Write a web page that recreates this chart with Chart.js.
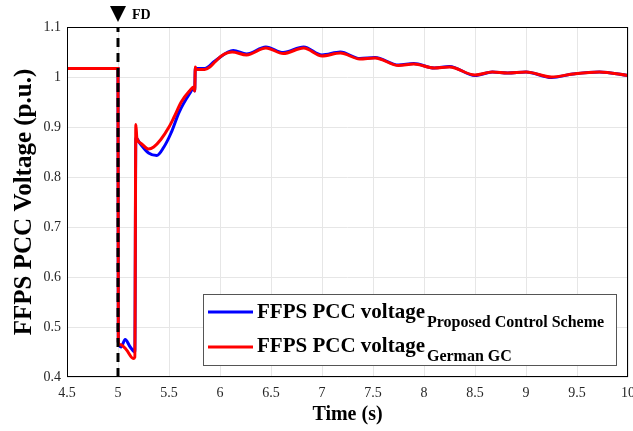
<!DOCTYPE html>
<html>
<head>
<meta charset="utf-8">
<script src="https://cdn.jsdelivr.net/npm/chart.js@4.4.1/dist/chart.umd.min.js"></script>
<style>
  html, body { margin: 0; padding: 0; background: #fff; }
  #wrap { width: 633px; height: 431px; }
</style>
</head>
<body>
<div id="wrap"><canvas id="voltChart" width="633" height="431"></canvas></div>
<script>
// time axis (s) and voltage (p.u.)
const germanT = [4.5, 5.0, 5.003, 5.02, 5.08, 5.15, 5.165, 5.175, 5.185, 5.22, 5.3, 5.35, 5.42, 5.5, 5.55, 5.62, 5.7, 5.745, 5.752, 5.758, 5.765, 5.85, 5.9, 5.95, 6.02, 6.12, 6.26, 6.45, 6.62, 6.82, 7.0, 7.18, 7.37, 7.52, 7.75, 7.9, 8.1, 8.25, 8.5, 8.67, 8.82, 9.0, 9.25, 9.46, 9.72, 10];
const germanV = [1.017, 1.017, 0.47, 0.465, 0.455, 0.437, 0.44, 0.905, 0.878, 0.868, 0.856, 0.86, 0.875, 0.9, 0.92, 0.95, 0.972, 0.98, 0.972, 1.02, 1.015, 1.015, 1.02, 1.03, 1.043, 1.05, 1.044, 1.058, 1.047, 1.058, 1.042, 1.048, 1.036, 1.038, 1.023, 1.026, 1.018, 1.02, 1.004, 1.01, 1.008, 1.01, 1.0, 1.006, 1.01, 1.003];

const proposedT = [4.5, 5.0, 5.003, 5.03, 5.07, 5.12, 5.165, 5.175, 5.22, 5.3, 5.38, 5.45, 5.52, 5.6, 5.7, 5.745, 5.752, 5.758, 5.77, 5.85, 5.95, 6.13, 6.26, 6.45, 6.62, 6.82, 7.0, 7.18, 7.37, 7.52, 7.75, 7.9, 8.1, 8.25, 8.5, 8.67, 8.82, 9.0, 9.25, 9.46, 9.72, 10];
const proposedV = [1.017, 1.017, 0.47, 0.46, 0.475, 0.46, 0.45, 0.878, 0.866, 0.848, 0.843, 0.86, 0.888, 0.93, 0.966, 0.978, 0.972, 1.018, 1.017, 1.017, 1.032, 1.053, 1.046, 1.06, 1.049, 1.06, 1.044, 1.05, 1.037, 1.039, 1.024, 1.027, 1.018, 1.021, 1.003, 1.01, 1.008, 1.01, 0.999, 1.006, 1.01, 1.003];

// fault detection instant
const faultT = [5, 5];
const faultV = [0.4, 1.1];

const legendMain = 'FFPS PCC voltage';
const legendSubs = ['Proposed Control Scheme', 'German GC'];
const legendColors = ['#0000ff', '#ff0000'];

const serif = '"Liberation Serif", "Times New Roman", serif';

const toPts = (ts, vs) => ts.map((t, i) => ({ x: t, y: vs[i] }));
const plainTick = v => String(Math.round(v * 10) / 10);

const decor = {
    id: 'decor',
    afterDatasetsDraw(chart) {
        const { ctx, chartArea: a } = chart;
        ctx.save();
        ctx.strokeStyle = '#000';
        ctx.lineWidth = 1;
        ctx.strokeRect(a.left + 0.5, a.top + 0.5, a.right - a.left - 1, a.bottom - a.top - 1);
        ctx.restore();
    },
    afterDraw(chart) {
        const { ctx, scales } = chart;
        const fx = scales.x.getPixelForValue(faultT[0]);
        ctx.save();
        // FD marker
        ctx.fillStyle = '#000';
        ctx.beginPath();
        ctx.moveTo(fx - 8, 6);
        ctx.lineTo(fx + 8, 6);
        ctx.lineTo(fx, 22);
        ctx.closePath();
        ctx.fill();
        ctx.font = 'bold 14px ' + serif;
        ctx.textBaseline = 'middle';
        ctx.fillText('FD', fx + 14, 15);

        // legend box
        const bx = 203, by = 294, bw = 413, bh = 71;
        ctx.fillStyle = '#fff';
        ctx.fillRect(bx, by, bw, bh);
        ctx.strokeStyle = '#555';
        ctx.lineWidth = 1;
        ctx.strokeRect(bx + 0.5, by + 0.5, bw, bh);
        const rows = [{ ly: 312, base: 318, sub: 327 }, { ly: 347, base: 352, sub: 361 }];
        rows.forEach((r, i) => {
            ctx.strokeStyle = legendColors[i];
            ctx.lineWidth = 3;
            ctx.beginPath();
            ctx.moveTo(208, r.ly);
            ctx.lineTo(253, r.ly);
            ctx.stroke();
            ctx.fillStyle = '#000';
            ctx.textBaseline = 'alphabetic';
            ctx.font = 'bold 21px ' + serif;
            ctx.fillText(legendMain, 257, r.base);
            const w = ctx.measureText(legendMain).width;
            ctx.font = 'bold 16px ' + serif;
            ctx.fillText(legendSubs[i], 257 + w + 2, r.sub);
        });
        ctx.restore();
    }
};

new Chart(document.getElementById('voltChart'), {
    type: 'line',
    data: {
        datasets: [
            {
                label: 'FD',
                data: toPts(faultT, faultV),
                borderColor: '#000',
                borderWidth: 3,
                borderDash: [9, 6],
                pointRadius: 0,
                tension: 0
            },
            {
                label: legendMain + ' ' + legendSubs[1],
                data: toPts(germanT, germanV),
                borderColor: legendColors[1],
                borderWidth: 3,
                pointRadius: 0,
                cubicInterpolationMode: 'monotone'
            },
            {
                label: legendMain + ' ' + legendSubs[0],
                data: toPts(proposedT, proposedV),
                borderColor: legendColors[0],
                borderWidth: 3,
                pointRadius: 0,
                cubicInterpolationMode: 'monotone'
            }
        ]
    },
    options: {
        responsive: false,
        animation: false,
        layout: { padding: { top: 27, right: 5, left: 0, bottom: 0 } },
        plugins: { legend: { display: false }, tooltip: { enabled: false } },
        scales: {
            x: {
                type: 'linear',
                min: 4.5,
                max: 10,
                ticks: { stepSize: 0.5, color: '#262626', font: { family: serif, size: 14 }, padding: 8, callback: plainTick },
                grid: { color: '#e6e6e6', drawTicks: false },
                border: { display: false },
                title: { display: true, text: 'Time (s)', color: '#000', font: { family: serif, size: 20, weight: 'bold' }, padding: { top: 1 } },
                afterFit: s => { s.height = 54; s.paddingRight = 0; }
            },
            y: {
                min: 0.4,
                max: 1.1,
                ticks: { stepSize: 0.1, color: '#262626', font: { family: serif, size: 14 }, padding: 6, callback: plainTick },
                grid: { color: '#e6e6e6', drawTicks: false },
                border: { display: false },
                title: { display: true, text: 'FFPS PCC Voltage (p.u.)', color: '#000', font: { family: serif, size: 25, weight: 'bold' }, padding: { top: 10, bottom: 4 } },
                afterFit: s => { s.width = 67; }
            }
        }
    },
    plugins: [decor]
});
</script>
</body>
</html>
